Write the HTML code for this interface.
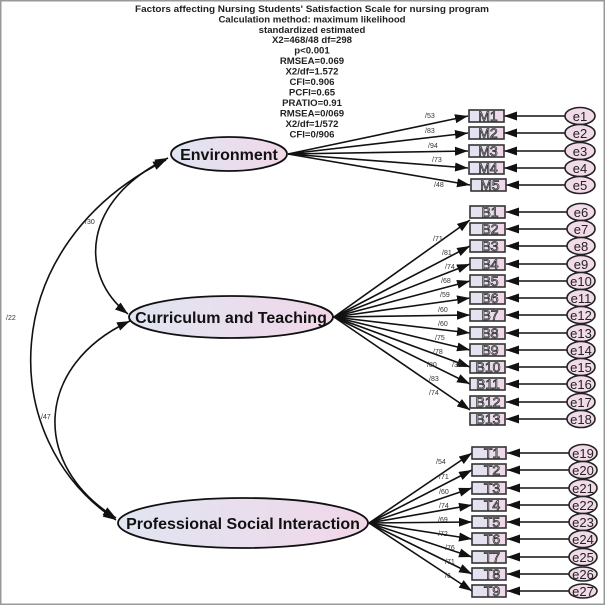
<!DOCTYPE html>
<html><head><meta charset="utf-8"><style>
html,body{margin:0;padding:0;background:#fff;}
svg{display:block;}
text{font-family:"Liberation Sans",Arial,sans-serif;}
.t{font-size:9.6px;font-weight:bold;fill:#222;text-anchor:middle;}
.l{font-size:7px;fill:#333;}
.bx{fill:url(#g);stroke:#333;stroke-width:1.6;}
.bt{font-size:14px;fill:#e8e8ee;stroke:#333;stroke-width:0.8;text-anchor:middle;}
.e{fill:#f2dbe9;stroke:#222;stroke-width:1.6;}
.et{font-size:13px;fill:#222;text-anchor:middle;}
.ln{stroke:#111;stroke-width:1.6;fill:none;}
.lat{stroke:#111;stroke-width:1.8;fill:url(#g);}
.lt{font-size:16px;font-weight:bold;fill:#111;text-anchor:middle;}
</style></head><body>
<svg width="605" height="605" viewBox="0 0 605 605" xmlns="http://www.w3.org/2000/svg">
<defs>
<linearGradient id="g" x1="0" x2="1" y1="0" y2="0"><stop offset="0" stop-color="#e0e5f2"/><stop offset="1" stop-color="#f1d7e8"/></linearGradient>
<marker id="a" markerUnits="userSpaceOnUse" markerWidth="14" markerHeight="10" refX="13" refY="4.5" orient="auto-start-reverse"><path d="M0,0 L13,4.5 L0,9 z" fill="#111"/></marker>
</defs>
<rect x="0.5" y="0.5" width="604" height="604" fill="none" stroke="#999" stroke-width="2"/>
<text class="t" x="312" y="12" textLength="354" lengthAdjust="spacingAndGlyphs">Factors affecting Nursing Students' Satisfaction Scale for nursing program</text>
<text class="t" x="312" y="22.5">Calculation method: maximum likelihood</text>
<text class="t" x="312" y="33">standardized estimated</text>
<text class="t" x="312" y="43">X2=468/48  df=298</text>
<text class="t" x="312" y="53.5">p&lt;0.001</text>
<text class="t" x="312" y="64">RMSEA=0.069</text>
<text class="t" x="312" y="74.5">X2/df=1.572</text>
<text class="t" x="312" y="85">CFI=0.906</text>
<text class="t" x="312" y="95.5">PCFI=0.65</text>
<text class="t" x="312" y="106">PRATIO=0.91</text>
<text class="t" x="312" y="116.5">RMSEA=0/069</text>
<text class="t" x="312" y="127">X2/df=1/572</text>
<text class="t" x="312" y="137.5">CFI=0/906</text>

<path class="ln" d="M168,158 C82,200 78,275 128,314" marker-start="url(#a)" marker-end="url(#a)"/>
<path class="ln" d="M166,160 C-5,245 -5,440 116,520" marker-start="url(#a)" marker-end="url(#a)"/>
<path class="ln" d="M130,321 C35,365 30,465 116,518" marker-start="url(#a)" marker-end="url(#a)"/>
<text class="l" x="85" y="224">/30</text>
<text class="l" x="6" y="320">/22</text>
<text class="l" x="41" y="419">/47</text>

<g class="ln" marker-end="url(#a)">
<line x1="288" y1="154" x2="468" y2="116"/><line x1="288" y1="154" x2="468" y2="133"/><line x1="288" y1="154" x2="468" y2="151"/><line x1="288" y1="154" x2="468" y2="168"/><line x1="288" y1="154" x2="470" y2="185"/>
<line x1="565" y1="116" x2="504" y2="116"/><line x1="565" y1="133" x2="504" y2="133"/><line x1="565" y1="151" x2="504" y2="151"/><line x1="565" y1="168" x2="504" y2="168"/><line x1="565" y1="185" x2="506" y2="185"/>
</g>
<g class="l"><text x="425" y="118">/53</text><text x="425" y="133">/83</text><text x="428" y="148">/94</text><text x="432" y="162">/73</text><text x="434" y="187">/48</text></g>
<g>
<rect class="bx" x="469" y="110" width="35" height="12"/><text class="bt" x="488" y="121">M1</text>
<rect class="bx" x="469" y="127" width="35" height="12"/><text class="bt" x="488" y="138">M2</text>
<rect class="bx" x="469" y="145" width="35" height="12"/><text class="bt" x="488" y="156">M3</text>
<rect class="bx" x="469" y="162" width="35" height="12"/><text class="bt" x="488" y="173">M4</text>
<rect class="bx" x="471" y="179" width="35" height="12"/><text class="bt" x="490" y="190">M5</text>
</g>
<g>
<ellipse class="e" cx="580" cy="116" rx="15" ry="8.5"/><text class="et" x="580" y="121">e1</text>
<ellipse class="e" cx="580" cy="133" rx="15" ry="8.5"/><text class="et" x="580" y="138">e2</text>
<ellipse class="e" cx="580" cy="151" rx="15" ry="8.5"/><text class="et" x="580" y="156">e3</text>
<ellipse class="e" cx="580" cy="168" rx="15" ry="8.5"/><text class="et" x="580" y="173">e4</text>
<ellipse class="e" cx="580" cy="185" rx="15" ry="8.5"/><text class="et" x="580" y="190">e5</text>
</g>
<ellipse class="lat" cx="229" cy="154" rx="58" ry="17"/><text class="lt" x="229" y="160">Environment</text>

<g class="ln" marker-end="url(#a)">
<line x1="334" y1="317" x2="470" y2="220"/><line x1="334" y1="317" x2="470" y2="246"/><line x1="334" y1="317" x2="470" y2="264"/><line x1="334" y1="317" x2="470" y2="281"/><line x1="334" y1="317" x2="470" y2="298"/><line x1="334" y1="317" x2="470" y2="315"/><line x1="334" y1="317" x2="470" y2="333"/><line x1="334" y1="317" x2="470" y2="350"/><line x1="334" y1="317" x2="470" y2="367"/><line x1="334" y1="317" x2="470" y2="384"/><line x1="334" y1="317" x2="470" y2="410"/>
<line x1="567" y1="212" x2="506" y2="212"/><line x1="567" y1="229" x2="506" y2="229"/><line x1="567" y1="246" x2="506" y2="246"/><line x1="567" y1="264" x2="506" y2="264"/><line x1="567" y1="281" x2="506" y2="281"/><line x1="567" y1="298" x2="506" y2="298"/><line x1="567" y1="315" x2="506" y2="315"/><line x1="567" y1="333" x2="506" y2="333"/><line x1="567" y1="350" x2="506" y2="350"/><line x1="567" y1="367" x2="506" y2="367"/><line x1="567" y1="384" x2="506" y2="384"/><line x1="567" y1="402" x2="506" y2="402"/><line x1="567" y1="419" x2="506" y2="419"/>
</g>
<g class="l"><text x="433" y="241">/71</text><text x="442" y="255">/81</text><text x="445" y="269">/74</text><text x="441" y="283">/68</text><text x="440" y="297">/59</text><text x="438" y="312">/60</text><text x="438" y="326">/60</text><text x="435" y="340">/75</text><text x="433" y="354">/78</text><text x="427" y="367">/80</text><text x="452" y="367">/38</text><text x="429" y="381">/83</text><text x="429" y="395">/74</text></g>
<g>
<rect class="bx" x="470" y="206" width="35" height="12"/><text class="bt" x="490" y="217">B1</text>
<rect class="bx" x="470" y="223" width="35" height="12"/><text class="bt" x="490" y="234">B2</text>
<rect class="bx" x="470" y="240" width="35" height="12"/><text class="bt" x="490" y="251">B3</text>
<rect class="bx" x="470" y="258" width="35" height="12"/><text class="bt" x="490" y="269">B4</text>
<rect class="bx" x="470" y="275" width="35" height="12"/><text class="bt" x="490" y="286">B5</text>
<rect class="bx" x="470" y="292" width="35" height="12"/><text class="bt" x="490" y="303">B6</text>
<rect class="bx" x="470" y="309" width="35" height="12"/><text class="bt" x="490" y="320">B7</text>
<rect class="bx" x="470" y="327" width="35" height="12"/><text class="bt" x="490" y="338">B8</text>
<rect class="bx" x="470" y="344" width="35" height="12"/><text class="bt" x="490" y="355">B9</text>
<rect class="bx" x="470" y="361" width="35" height="12"/><text class="bt" x="488" y="372">B10</text>
<rect class="bx" x="470" y="378" width="35" height="12"/><text class="bt" x="488" y="389">B11</text>
<rect class="bx" x="470" y="396" width="35" height="12"/><text class="bt" x="488" y="407">B12</text>
<rect class="bx" x="470" y="413" width="35" height="12"/><text class="bt" x="488" y="424">B13</text>
</g>
<g>
<ellipse class="e" cx="581" cy="212" rx="14" ry="8.5"/><text class="et" x="581" y="217">e6</text>
<ellipse class="e" cx="581" cy="229" rx="14" ry="8.5"/><text class="et" x="581" y="234">e7</text>
<ellipse class="e" cx="581" cy="246" rx="14" ry="8.5"/><text class="et" x="581" y="251">e8</text>
<ellipse class="e" cx="581" cy="264" rx="14" ry="8.5"/><text class="et" x="581" y="269">e9</text>
<ellipse class="e" cx="581" cy="281" rx="14" ry="8.5"/><text class="et" x="581" y="286">e10</text>
<ellipse class="e" cx="581" cy="298" rx="14" ry="8.5"/><text class="et" x="581" y="303">e11</text>
<ellipse class="e" cx="581" cy="315" rx="14" ry="8.5"/><text class="et" x="581" y="320">e12</text>
<ellipse class="e" cx="581" cy="333" rx="14" ry="8.5"/><text class="et" x="581" y="338">e13</text>
<ellipse class="e" cx="581" cy="350" rx="14" ry="8.5"/><text class="et" x="581" y="355">e14</text>
<ellipse class="e" cx="581" cy="367" rx="14" ry="8.5"/><text class="et" x="581" y="372">e15</text>
<ellipse class="e" cx="581" cy="384" rx="14" ry="8.5"/><text class="et" x="581" y="389">e16</text>
<ellipse class="e" cx="581" cy="402" rx="14" ry="8.5"/><text class="et" x="581" y="407">e17</text>
<ellipse class="e" cx="581" cy="419" rx="14" ry="8.5"/><text class="et" x="581" y="424">e18</text>
</g>
<ellipse class="lat" cx="231" cy="317" rx="102" ry="21"/><text class="lt" x="231" y="323">Curriculum and Teaching</text>

<g class="ln" marker-end="url(#a)">
<line x1="369" y1="523" x2="472" y2="453"/><line x1="369" y1="523" x2="472" y2="470"/><line x1="369" y1="523" x2="472" y2="488"/><line x1="369" y1="523" x2="472" y2="505"/><line x1="369" y1="523" x2="472" y2="522"/><line x1="369" y1="523" x2="472" y2="539"/><line x1="369" y1="523" x2="472" y2="557"/><line x1="369" y1="523" x2="472" y2="574"/><line x1="369" y1="523" x2="472" y2="591"/>
<line x1="569" y1="453" x2="507" y2="453"/><line x1="569" y1="470" x2="507" y2="470"/><line x1="569" y1="488" x2="507" y2="488"/><line x1="569" y1="505" x2="507" y2="505"/><line x1="569" y1="522" x2="507" y2="522"/><line x1="569" y1="539" x2="507" y2="539"/><line x1="569" y1="557" x2="507" y2="557"/><line x1="569" y1="574" x2="507" y2="574"/><line x1="569" y1="591" x2="507" y2="591"/>
</g>
<g class="l"><text x="436" y="464">/54</text><text x="439" y="479">/71</text><text x="439" y="494">/60</text><text x="439" y="508">/74</text><text x="438" y="522">/69</text><text x="438" y="536">/72</text><text x="445" y="550">/76</text><text x="445" y="564">/71</text><text x="445" y="578">/6</text></g>
<g>
<rect class="bx" x="472" y="447" width="34" height="12"/><text class="bt" x="492" y="458">T1</text>
<rect class="bx" x="472" y="464" width="34" height="12"/><text class="bt" x="492" y="475">T2</text>
<rect class="bx" x="472" y="482" width="34" height="12"/><text class="bt" x="492" y="493">T3</text>
<rect class="bx" x="472" y="499" width="34" height="12"/><text class="bt" x="492" y="510">T4</text>
<rect class="bx" x="472" y="516" width="34" height="12"/><text class="bt" x="492" y="527">T5</text>
<rect class="bx" x="472" y="533" width="34" height="12"/><text class="bt" x="492" y="544">T6</text>
<rect class="bx" x="472" y="551" width="34" height="12"/><text class="bt" x="492" y="562">T7</text>
<rect class="bx" x="472" y="568" width="34" height="12"/><text class="bt" x="492" y="579">T8</text>
<rect class="bx" x="472" y="585" width="34" height="12"/><text class="bt" x="492" y="596">T9</text>
</g>
<g>
<ellipse class="e" cx="583" cy="453" rx="14" ry="8.5"/><text class="et" x="583" y="458">e19</text>
<ellipse class="e" cx="583" cy="470" rx="14" ry="8.5"/><text class="et" x="583" y="475">e20</text>
<ellipse class="e" cx="583" cy="488" rx="14" ry="8.5"/><text class="et" x="583" y="493">e21</text>
<ellipse class="e" cx="583" cy="505" rx="14" ry="8.5"/><text class="et" x="583" y="510">e22</text>
<ellipse class="e" cx="583" cy="522" rx="14" ry="8.5"/><text class="et" x="583" y="527">e23</text>
<ellipse class="e" cx="583" cy="539" rx="14" ry="8.5"/><text class="et" x="583" y="544">e24</text>
<ellipse class="e" cx="583" cy="557" rx="14" ry="8.5"/><text class="et" x="583" y="562">e25</text>
<ellipse class="e" cx="583" cy="574" rx="14" ry="7"/><text class="et" x="583" y="579">e26</text>
<ellipse class="e" cx="583" cy="591" rx="14" ry="7"/><text class="et" x="583" y="596">e27</text>
</g>
<ellipse class="lat" cx="243" cy="523" rx="125" ry="25"/><text class="lt" x="243" y="529">Professional Social Interaction</text>
</svg>
</body></html>
